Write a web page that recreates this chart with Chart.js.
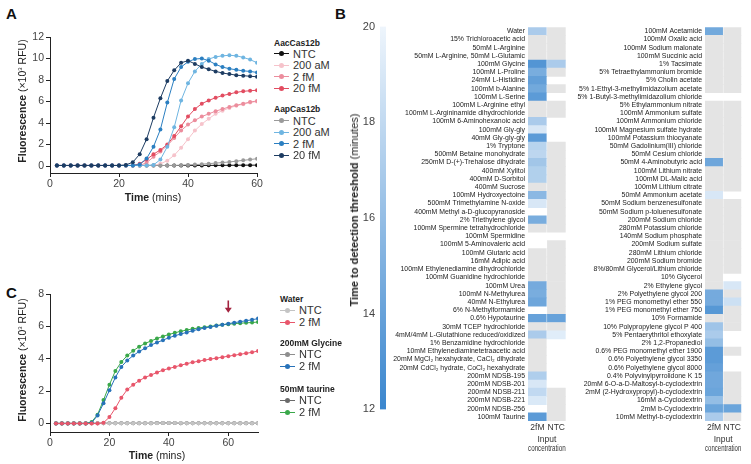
<!DOCTYPE html>
<html>
<head>
<meta charset="utf-8">
<script src="https://cdn.jsdelivr.net/npm/chart.js@4.4.0/dist/chart.umd.min.js"></script>
<style>
body { margin:0; background:#fff; font-family:"Liberation Sans", Arial, Helvetica, sans-serif; color:#222; }
#figura { position:relative; width:751px; height:464px; overflow:hidden; }
canvas { position:absolute; }
.letra { position:absolute; font-weight:bold; font-size:15px; color:#111; }
.tit { position:absolute; font-size:10.5px; white-space:nowrap; color:#222; transform:translate(-50%,-50%); }
.tit.rot { transform:translate(-50%,-50%) rotate(-90deg); }
.tit.cb { font-size:11px; }
.cab { position:absolute; font-weight:bold; font-size:8.5px; white-space:nowrap; transform:translateY(-50%); color:#222; }
.item { position:absolute; font-size:11px; white-space:nowrap; transform:translateY(-50%); color:#333; line-height:12px; }
.mk { display:inline-block; position:relative; width:15px; height:1px; vertical-align:middle; margin-right:4px; top:-1px; }
.mk i { position:absolute; left:5px; top:-2px; width:5px; height:5px; border-radius:50%; }
</style>
</head>
<body>
<div id="figura">
  <div class="letra" style="left:6px;top:5px">A</div>
  <div class="letra" style="left:335px;top:5px">B</div>
  <div class="letra" style="left:6px;top:284px">C</div>

  <canvas id="plotA" width="270" height="190" style="left:0;top:25px"></canvas>
  <canvas id="plotC" width="270" height="179" style="left:0;top:285px"></canvas>
  <canvas id="barra" width="56" height="406" style="left:330px;top:15px"></canvas>
  <canvas id="mapaEsq" width="181" height="444" style="left:386px;top:20px"></canvas>
  <canvas id="mapaDir" width="173" height="444" style="left:570px;top:20px"></canvas>

  <div class="tit rot" style="left:22px;top:101px"><b>Fluorescence</b> (×10<sup style="font-size:6px">3</sup> RFU)</div>
  <div class="tit" style="left:153px;top:197px"><b>Time</b> (mins)</div>
  <div class="tit rot" style="left:22px;top:360px"><b>Fluorescence</b> (×10<sup style="font-size:6px">3</sup> RFU)</div>
  <div class="tit" style="left:157px;top:455px"><b>Time</b> (mins)</div>
  <div class="tit rot cb" style="left:354px;top:210px"><b>Time to detection threshold</b> (minutes)</div>
</div>

<script>
// ---------- painel A ----------
var tempoA = [2,4,6,8,10,12,14,16,18,20,22,24,26,28,30,32,34,36,38,40,42,44,46,48,50,52,54,56,58,60];
var aacNTC   = [0.05,0.05,0.05,0.05,0.05,0.05,0.05,0.05,0.05,0.05,0.05,0.05,0.05,0.05,0.05,0.05,0.05,0.05,0.05,0.05,0.05,0.05,0.06,0.06,0.06,0.07,0.07,0.08,0.08,0.08];
var aac200aM = [0.05,0.05,0.05,0.05,0.05,0.05,0.05,0.05,0.05,0.05,0.05,0.05,0.05,0.05,0.05,0.2,0.5,1.0,1.7,2.5,3.3,3.9,4.4,4.85,5.15,5.4,5.6,5.75,5.9,6.0];
var aac2fM   = [0.05,0.05,0.05,0.05,0.05,0.05,0.05,0.05,0.05,0.05,0.05,0.05,0.05,0.3,0.85,1.35,1.9,2.6,3.3,3.85,4.25,4.6,4.85,5.1,5.3,5.5,5.65,5.8,5.95,6.05];
var aac20fM  = [0.05,0.05,0.05,0.05,0.05,0.05,0.05,0.05,0.05,0.05,0.05,0.05,0.2,0.6,1.1,1.5,2.0,2.8,3.7,4.6,5.3,5.8,6.1,6.35,6.55,6.7,6.85,6.95,7.0,7.05];
var aapNTC   = [0.05,0.05,0.05,0.05,0.05,0.05,0.05,0.05,0.05,0.05,0.05,0.05,0.05,0.05,0.05,0.05,0.05,0.05,0.08,0.1,0.13,0.17,0.22,0.27,0.32,0.38,0.45,0.53,0.6,0.68];
var aap200aM = [0.05,0.05,0.05,0.05,0.05,0.05,0.05,0.05,0.05,0.05,0.05,0.05,0.05,0.05,0.1,0.6,1.8,3.6,6.1,7.7,8.8,9.5,9.95,10.15,10.25,10.3,10.25,10.1,9.9,9.6];
var aap2fM   = [0.05,0.05,0.05,0.05,0.05,0.05,0.05,0.05,0.05,0.05,0.05,0.05,0.15,0.7,1.8,3.4,5.9,8.1,9.2,9.7,9.95,10.0,9.8,9.45,9.2,9.05,8.95,8.85,8.8,8.7];
var aap20fM  = [0.05,0.05,0.05,0.05,0.05,0.05,0.05,0.05,0.05,0.05,0.1,0.35,1.1,2.5,4.5,6.3,7.9,8.9,9.6,9.8,9.5,9.2,9.0,8.8,8.65,8.55,8.45,8.4,8.35,8.3];
var nomesA = ['NTC','200 aM','2 fM','20 fM'];
var coresAac = ['#111111','#f6c3cb','#ec8d9d','#e24d61'];
var coresAap = ['#9a9a9a','#6fb5e1','#2b7fc1','#1d3c62'];
var ticksYA = [0,2,4,6,8,10,12];
var ticksXA = [0,20,40,60];

// ---------- painel C ----------
var tempoC = [2,4,6,8,10,12,14,16,18,20,22,24,26,28,30,32,34,36,38,40,42,44,46,48,50,52,54,56,58,60,62,64,66,68,70];
var aguaNTC    = [0.02,0.02,0.02,0.02,0.02,0.02,0.02,0.02,0.02,0.02,0.02,0.02,0.02,0.02,0.02,0.02,0.02,0.02,0.03,0.03,0.03,0.03,0.02,0.02,0.02,0.02,0.02,0.02,0.02,0.02,0.02,0.02,0.02,0.02,0.02];
var agua2fM    = [0,0,0,0,0,0,0,0,0.05,0.4,0.95,1.6,2.1,2.4,2.65,2.85,3.0,3.15,3.3,3.4,3.5,3.6,3.7,3.78,3.85,3.92,3.98,4.04,4.1,4.16,4.22,4.28,4.34,4.4,4.48];
var glicinaNTC = [0.02,0.02,0.02,0.02,0.02,0.02,0.02,0.02,0.02,0.02,0.02,0.02,0.02,0.02,0.02,0.02,0.02,0.03,0.03,0.03,0.03,0.02,0.02,0.02,0.02,0.02,0.02,0.02,0.02,0.02,0.02,0.02,0.02,0.02,0.02];
var glicina2fM = [0,0,0,0,0,0,0.05,0.5,1.25,2.05,2.85,3.5,3.9,4.2,4.45,4.65,4.85,5.0,5.15,5.3,5.42,5.53,5.63,5.73,5.82,5.9,5.97,6.04,6.1,6.17,6.23,6.29,6.35,6.41,6.48];
var taurinaNTC = [0.02,0.02,0.02,0.02,0.02,0.02,0.02,0.02,0.02,0.02,0.02,0.02,0.02,0.02,0.02,0.02,0.02,0.03,0.04,0.04,0.03,0.02,0.02,0.02,0.02,0.02,0.02,0.02,0.02,0.02,0.02,0.02,0.02,0.02,0.02];
var taurina2fM = [0,0,0,0,0,0,0.1,0.55,1.45,2.4,3.25,3.8,4.2,4.5,4.75,4.95,5.1,5.25,5.38,5.5,5.6,5.7,5.77,5.85,5.9,5.95,6.0,6.05,6.1,6.14,6.17,6.2,6.22,6.24,6.27];
var gruposC = ['Water','200mM Glycine','50mM taurine'];
var nomesC = ['NTC','2 fM'];
var coresC = [['#c4c4c4','#e8566b'],['#8e8e8e','#2772b9'],['#6a6a6a','#3aa84a']];
var ticksYC = [0,2,4,6,8];
var ticksXC = [0,20,40,60];
var setaTempo = 60;   // seta vermelha em t = 60
var setaTopo = 7.6, setaPonta = 6.85;

// ---------- painel B ----------
var ND = null; // nao detectado (cinza)
var BR = NaN;  // celula em branco
var colunasB = ['2fM','NTC'];
var escalaB = [12,20];
var ticksB = [12,14,16,18,20];

var rotulosEsq = ['Water','15% Trichloroacetic acid','50mM L-Arginine','50mM L-Arginine, 50mM L-Glutamic','100mM Glycine','100mM L-Proline','24mM L-Histidine','100mM b-Alanine','100mM L-Serine','100mM L-Arginine ethyl','100mM L-Argininamide dihydrochloride','100mM 6-Aminohexanoic acid','100mM Gly-gly','40mM Gly-gly-gly','1% Tryptone','500mM Betaine monohydrate','250mM D-(+)-Trehalose dihydrate','400mM Xylitol','400mM D-Sorbitol','400mM Sucrose','100mM Hydroxyectoine','500mM Trimethylamine N-oxide','400mM Methyl a-D-glucopyranoside','2% Triethylene glycol','100mM Spermine tetrahydrochloride','100mM Spermidine','100mM 5-Aminovaleric acid','100mM Glutaric acid','16mM Adipic acid','100mM Ethylenediamine dihydrochloride','100mM Guanidine hydrochloride','100mM Urea','100mM N-Methylurea','40mM N-Ethylurea','6% N-Methylformamide','0.6% Hypotaurine','30mM TCEP hydrochloride','4mM/4mM L-Glutathione reduced/oxidized','1% Benzamidine hydrochloride','10mM Ethylenediaminetetraacetic acid','20mM MgCl₂ hexahydrate, CaCl₂ dihydrate','20mM CdCl₂ hydrate, CoCl₂ hexahydrate','200mM NDSB-195','200mM NDSB-201','200mM NDSB-211','200mM NDSB-221','200mM NDSB-256','100mM Taurine'];
var v2fMEsq = [17.0,ND,ND,ND,13.1,14.8,13.8,14.5,13.5,ND,ND,17.0,19.0,13.5,17.6,17.8,16.6,17.3,17.3,ND,15.6,19.0,BR,14.8,ND,BR,BR,ND,ND,ND,ND,14.6,14.8,14.3,BR,14.0,ND,17.0,ND,ND,ND,ND,17.2,19.0,18.0,19.1,BR,13.5];
var vNTCEsq = [ND,ND,ND,ND,17.0,ND,BR,ND,BR,ND,ND,BR,BR,BR,ND,ND,ND,ND,ND,ND,ND,ND,ND,ND,ND,BR,ND,ND,ND,ND,ND,ND,ND,ND,ND,14.0,ND,19.4,BR,BR,BR,BR,BR,BR,ND,ND,ND,ND];

var rotulosDir = ['100mM Acetamide','100mM Oxalic acid','100mM Sodium malonate','100mM Succinic acid','1% Tacsimate','5% Tetraethylammonium bromide','5% Cholin acetate','5% 1-Ethyl-3-methylimidazolium acetate','5% 1-Butyl-3-methylimidazolium chloride','5% Ethylammonium nitrate','100mM Ammonium sulfate','100mM Ammonium chloride','100mM Magnesium sulfate hydrate','100mM Potassium thiocyanate','50mM Gadolinium(III) chloride','50mM Cesium chloride','50mM 4-Aminobutyric acid','100mM Lithium nitrate','100mM DL-Malic acid','100mM Lithium citrate','50mM Ammonium acetate','50mM Sodium benzenesulfonate','50mM Sodium p-toluenesulfonate','200mM Sodium chloride','280mM Potassium chloride','140mM Sodium phosphate','200mM Sodium sulfate','280mM Lithium chloride','200mM Sodium bromide','8%/80mM Glycerol/Lithium chloride','10% Glycerol','2% Ethylene glycol','2% Polyethylene glycol 200','1% PEG monomethyl ether 550','1% PEG monomethyl ether 750','10% Formamide','10% Polypropylene glycol P 400','5% Pentaerythritol ethoxylate','2% 1,2-Propanediol','0.6% PEG monomethyl ether 1900','0.6% Polyethylene glycol 3350','0.6% Polyethylene glycol 8000','0.4% Polyvinylpyrrolidone K 15','20mM 6-O-a-D-Maltosyl-b-cyclodextrin','2mM (2-Hydroxypropyl)-b-cyclodextrin','16mM a-Cyclodextrin','2mM b-Cyclodextrin','10mM Methyl-b-cyclodextrin'];
var v2fMDir = [14.5,ND,ND,ND,ND,ND,ND,ND,BR,ND,ND,ND,ND,ND,ND,ND,14.3,ND,ND,ND,19.0,ND,ND,ND,ND,ND,ND,ND,ND,ND,ND,ND,14.6,14.6,13.3,ND,16.5,17.0,16.0,13.5,13.5,13.9,14.4,14.4,14.2,16.0,14.2,17.0];
var vNTCDir = [ND,ND,ND,ND,ND,ND,ND,ND,BR,ND,ND,ND,ND,ND,ND,ND,ND,ND,ND,ND,BR,ND,ND,ND,ND,ND,ND,ND,ND,ND,BR,19.0,ND,18.5,ND,ND,ND,BR,BR,ND,BR,BR,ND,ND,ND,ND,14.2,ND];

var corEscura = [58,134,206];
var corClara = [238,245,252];
var corCinza = '#e4e4e4';

Chart.defaults.font.family = '"Liberation Sans", Arial, Helvetica, sans-serif';
Chart.defaults.color = '#333';

function cor_celula(v) {
    if (v === null) return corCinza;
    if (isNaN(v)) return 'rgba(0,0,0,0)';
    var t = (v - escalaB[0]) / (escalaB[1] - escalaB[0]);
    t = Math.max(0, Math.min(1, t));
    var c = corEscura.map(function (a, i) { return Math.round(a + (corClara[i] - a) * t); });
    return 'rgb(' + c.join(',') + ')';
}

function linha(nome, dados, cor) {
    return {
        label: nome, data: dados, borderColor: cor, backgroundColor: cor,
        borderWidth: 1, pointRadius: 2, pointHoverRadius: 2, pointBorderWidth: 0, tension: 0
    };
}

function eixos(xmax, ticksX, ymin, ymax, ticksY, largY, altX) {
    var grade = { display: true, drawOnChartArea: false, drawTicks: true, tickLength: 4, color: '#222', lineWidth: 1 };
    return {
        x: {
            type: 'linear', min: 0, max: xmax,
            afterBuildTicks: function (s) { s.ticks = ticksX.map(function (v) { return { value: v }; }); },
            afterFit: function (s) { s.height = altX; },
            grid: grade, border: { display: true, color: '#222', width: 1 },
            ticks: { font: { size: 10.5 }, color: '#444', padding: 1, maxRotation: 0 }
        },
        y: {
            min: ymin, max: ymax,
            afterBuildTicks: function (s) { s.ticks = ticksY.map(function (v) { return { value: v }; }); },
            afterFit: function (s) { s.width = largY; },
            grid: grade, border: { display: true, color: '#222', width: 1 },
            ticks: { font: { size: 10.5 }, color: '#444', padding: 2 }
        }
    };
}

function monta_legenda(x, grupos) {
    var html = '';
    grupos.forEach(function (g) {
        html += '<div class="cab" style="left:' + x + 'px;top:' + g.y + 'px">' + g.titulo + '</div>';
        g.nomes.forEach(function (nome, i) {
            var y = g.y + g.passo0 + i * g.passo;
            html += '<div class="item" style="left:' + x + 'px;top:' + y + 'px"><span class="mk" style="background:' + g.cores[i] + '"><i style="background:' + g.cores[i] + '"></i></span>' + nome + '</div>';
        });
    });
    document.getElementById('figura').insertAdjacentHTML('beforeend', html);
}

// painel A
var serieAac = [aacNTC, aac200aM, aac2fM, aac20fM];
var serieAap = [aapNTC, aap200aM, aap2fM, aap20fM];
var dsA = [];
for (var i = 3; i >= 0; i--) {
    dsA.push(linha('AapCas12b ' + nomesA[i], serieAap[i], coresAap[i]));
}
for (var j = 3; j >= 0; j--) {
    dsA.push(linha('AacCas12b ' + nomesA[j], serieAac[j], coresAac[j]));
}
dsA.forEach(function (d) { d.data = d.data.map(function (v, k) { return { x: tempoA[k], y: v }; }); });

new Chart(document.getElementById('plotA'), {
    type: 'line',
    data: { datasets: dsA },
    options: {
        responsive: false, animation: false,
        layout: { padding: { top: 12, right: 13, left: 0, bottom: 0 } },
        plugins: { legend: { display: false }, tooltip: { enabled: false } },
        scales: eixos(60, ticksXA, -0.65, 12, ticksYA, 50, 42)
    }
});
monta_legenda(274, [
    { titulo: 'AacCas12b', y: 43, passo0: 10.5, passo: 11.6, nomes: nomesA, cores: coresAac },
    { titulo: 'AapCas12b', y: 109, passo0: 11.5, passo: 11.6, nomes: nomesA, cores: coresAap }
]);

// painel C
var dsC = [];
dsC.push(linha('Water 2 fM', agua2fM, coresC[0][1]));
dsC.push(linha('200mM Glycine 2 fM', glicina2fM, coresC[1][1]));
dsC.push(linha('50mM taurine 2 fM', taurina2fM, coresC[2][1]));
dsC.push(linha('Water NTC', aguaNTC, coresC[0][0]));
dsC.push(linha('200mM Glycine NTC', glicinaNTC, coresC[1][0]));
dsC.push(linha('50mM taurine NTC', taurinaNTC, coresC[2][0]));
dsC.forEach(function (d) { d.data = d.data.map(function (v, k) { return { x: tempoC[k], y: v }; }); });

var pluginSeta = {
    id: 'seta',
    afterDatasetsDraw: function (chart) {
        var c = chart.ctx;
        var x = chart.scales.x.getPixelForValue(setaTempo);
        var y0 = chart.scales.y.getPixelForValue(setaTopo);
        var y1 = chart.scales.y.getPixelForValue(setaPonta);
        c.save();
        c.strokeStyle = '#a3233f';
        c.fillStyle = '#a3233f';
        c.lineWidth = 1.6;
        c.beginPath(); c.moveTo(x, y0); c.lineTo(x, y1 - 4); c.stroke();
        c.beginPath(); c.moveTo(x - 3.5, y1 - 5); c.lineTo(x + 3.5, y1 - 5); c.lineTo(x, y1); c.closePath(); c.fill();
        c.restore();
    }
};

new Chart(document.getElementById('plotC'), {
    type: 'line',
    data: { datasets: dsC },
    options: {
        responsive: false, animation: false,
        layout: { padding: { top: 9, right: 12, left: 0, bottom: 0 } },
        plugins: { legend: { display: false }, tooltip: { enabled: false } },
        scales: eixos(70, ticksXC, -0.52, 8, ticksYC, 50, 32)
    },
    plugins: [pluginSeta]
});
monta_legenda(280, [
    { titulo: gruposC[0], y: 299, passo0: 11, passo: 12, nomes: nomesC, cores: coresC[0] },
    { titulo: gruposC[1], y: 343, passo0: 11, passo: 12, nomes: nomesC, cores: coresC[1] },
    { titulo: gruposC[2], y: 389, passo0: 11, passo: 12, nomes: nomesC, cores: coresC[2] }
]);

// barra de cores
new Chart(document.getElementById('barra'), {
    type: 'bar',
    data: {
        labels: [''],
        datasets: [{
            data: [[escalaB[0], escalaB[1]]],
            barPercentage: 1, categoryPercentage: 1, borderWidth: 0,
            backgroundColor: function (ctx) {
                var ch = ctx.chart;
                if (!ch.chartArea) return corCinza;
                var g = ch.ctx.createLinearGradient(0, ch.scales.y.getPixelForValue(escalaB[0]), 0, ch.scales.y.getPixelForValue(escalaB[1]));
                g.addColorStop(0, cor_celula(escalaB[0]));
                g.addColorStop(1, cor_celula(escalaB[1]));
                return g;
            }
        }]
    },
    options: {
        responsive: false, animation: false,
        layout: { padding: { top: 11, right: 0, left: 0, bottom: 0 } },
        plugins: { legend: { display: false }, tooltip: { enabled: false } },
        scales: {
            x: { display: false },
            y: {
                min: escalaB[0], max: escalaB[1],
                afterBuildTicks: function (s) { s.ticks = ticksB.map(function (v) { return { value: v }; }); },
                afterFit: function (s) { s.width = 50; },
                grid: { display: false, drawTicks: false }, border: { display: false },
                ticks: { font: { size: 11 }, color: '#444', padding: 5 }
            }
        }
    }
});

// mapas de calor
function mapa(id, rotulos, v2fM, vNTC, largRotulos) {
    new Chart(document.getElementById(id), {
        type: 'bar',
        data: {
            labels: rotulos,
            datasets: [
                { label: colunasB[0], data: rotulos.map(function () { return [0, 0.97]; }), backgroundColor: v2fM.map(cor_celula),
                  grouped: false, barPercentage: 1, categoryPercentage: 1, borderWidth: 0 },
                { label: colunasB[1], data: rotulos.map(function () { return [1.03, 2]; }), backgroundColor: vNTC.map(cor_celula),
                  grouped: false, barPercentage: 1, categoryPercentage: 1, borderWidth: 0 }
            ]
        },
        options: {
            indexAxis: 'y', responsive: false, animation: false,
            layout: { padding: { top: 6, right: 0, left: 0, bottom: 0 } },
            plugins: { legend: { display: false }, tooltip: { enabled: false } },
            scales: {
                y: {
                    ticks: { autoSkip: false, font: { size: 6.9 }, color: '#222', padding: 3 },
                    grid: { display: false, drawTicks: false }, border: { display: false },
                    afterFit: function (s) { s.width = largRotulos; }
                },
                x: {
                    type: 'linear', min: 0, max: 2,
                    afterBuildTicks: function (s) { s.ticks = [{ value: 0.5 }, { value: 1.5 }]; },
                    afterFit: function (s) { s.height = 43; },
                    ticks: { callback: function (v) { return v < 1 ? colunasB[0] : colunasB[1]; }, font: { size: 8.5 }, color: '#333', padding: 2, maxRotation: 0 },
                    grid: { display: false, drawTicks: false }, border: { display: false },
                    title: { display: true, text: ['Input', 'concentration'], font: { size: 8.5, lineHeight: 1.15 }, color: '#333', padding: { top: 2, bottom: 10 } }
                }
            }
        }
    });
}
mapa('mapaEsq', rotulosEsq, v2fMEsq, vNTCEsq, 142);
mapa('mapaDir', rotulosDir, v2fMDir, vNTCDir, 135);
</script>
</body>
</html>
